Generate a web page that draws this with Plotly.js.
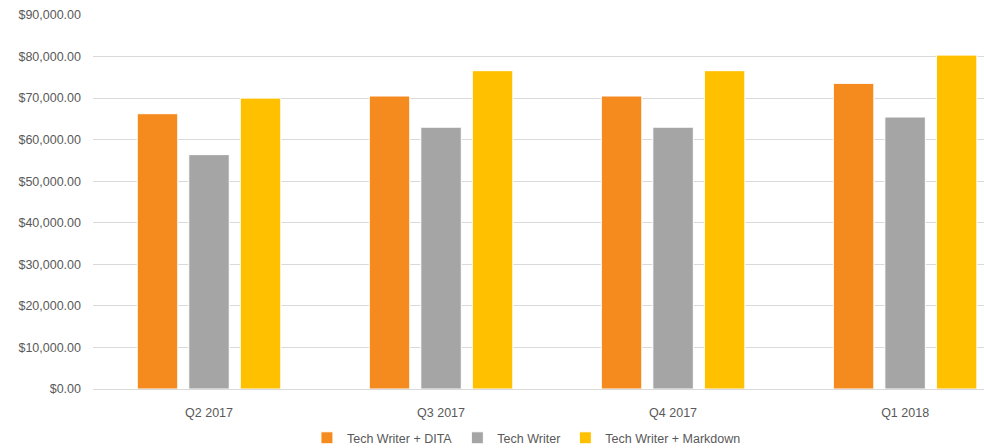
<!DOCTYPE html>
<html><head><meta charset="utf-8">
<script src="https://cdn.plot.ly/plotly-3.0.1.min.js"></script>
<style>html,body{margin:0;padding:0;background:#fff;}#chart{width:984px;height:448px;}</style>
</head><body><div id="chart"></div>
<script>
const categories = ["Q2 2017", "Q3 2017", "Q4 2017", "Q1 2018"];
const seriesNames = ["Tech Writer + DITA", "Tech Writer", "Tech Writer + Markdown"];
const ditaValues = [66250, 70500, 70500, 73550];
const writerValues = [56400, 63000, 63000, 65450];
const markdownValues = [70000, 76600, 76600, 80350];
const colors = ["#F58A1F", "#A5A5A5", "#FFC000"];

const allValues = [ditaValues, writerValues, markdownValues];
const traces = allValues.map((vals, i) => ({
  type: "bar",
  name: seriesNames[i],
  x: categories,
  y: vals,
  marker: {color: colors[i], line: {color: "#FFFFFF", width: 1}},
  hoverinfo: "skip"
}));

const layout = {
  width: 984, height: 448,
  margin: {l: 93, r: 0, t: 15, b: 59, autoexpand: false},
  paper_bgcolor: "#FFFFFF", plot_bgcolor: "#FFFFFF",
  font: {family: "Liberation Sans, Arial, sans-serif", size: 12, color: "#595959"},
  barmode: "group",
  bargap: 0.334,
  bargroupgap: 0.214,
  showlegend: true,
  legend: {orientation: "h", x: 0.535, xanchor: "center", xref: "container",
           y: 0.022, yanchor: "middle", yref: "container",
           font: {size: 12.5, color: "#595959"}, itemwidth: 30, traceorder: "normal"},
  xaxis: {type: "category", range: [-0.5, 3.34], showgrid: false, showline: true,
          linecolor: "#D9D9D9", linewidth: 1, ticks: "", ticklabelstandoff: 12,
          tickfont: {size: 12.5, color: "#595959"}},
  yaxis: {range: [0, 90000], dtick: 10000, tickformat: "$,.2f", showgrid: true,
          gridcolor: "#D9D9D9", gridwidth: 1, zeroline: false, showline: false,
          ticks: "", ticklabelstandoff: 11, tickfont: {size: 12.5, color: "#595959"}}
};

Plotly.newPlot("chart", traces, layout, {staticPlot: true, displayModeBar: false});
</script></body></html>
